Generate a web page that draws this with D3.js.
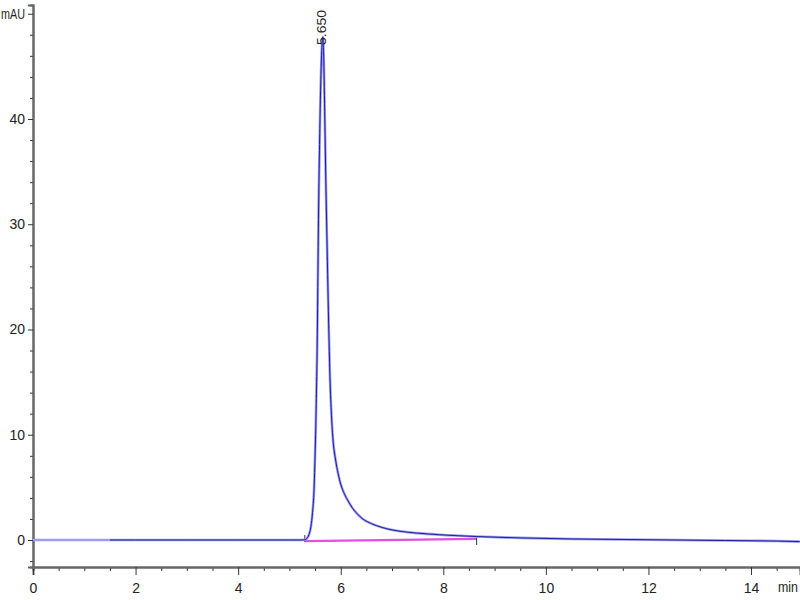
<!DOCTYPE html>
<html lang="en">
  <head>
    <meta charset="utf-8">
    <title>Chromatogram</title>
    <script src="https://d3js.org/d3.v7.min.js"></script>
    <style>
      body { margin: 0; background: #fff; }
      svg text { font-family: "Liberation Sans", Arial, sans-serif; fill: #222; }
    </style>
  </head>
  <body>
    <script>
      // retention time (min) and absorbance (mAU)
      const times = [0, 0.5, 1, 1.5, 1.6, 2, 3, 4, 5, 5.2, 5.3, 5.34, 5.38, 5.42, 5.45, 5.48, 5.51, 5.54,
        5.57, 5.6, 5.63, 5.65, 5.67, 5.69, 5.71, 5.73, 5.75, 5.77, 5.79, 5.82, 5.85, 5.9, 5.95, 6.0,
        6.07, 6.14, 6.22, 6.3, 6.43, 6.6, 6.8, 6.96, 7.2, 7.5, 7.93, 8.65, 9.5, 10.5, 11.5, 12.5,
        13.5, 14.5, 14.95];
      const signal = [0, 0, 0, 0, 0, 0, 0, 0, 0, 0, 0.02, 0.15, 0.5, 1.3, 2.6, 4.8, 10, 18,
        32, 41, 46.5, 47.8, 45.5, 40, 34, 29, 24, 19.5, 15.5, 11.8, 9.5, 7.6, 6.3, 5.3,
        4.4, 3.75, 3.1, 2.6, 2.0, 1.55, 1.2, 1.0, 0.8, 0.65, 0.5, 0.33, 0.2, 0.1, 0.05, 0,
        -0.05, -0.1, -0.15];

      const peakTime = 5.65, peakLabel = "5.650";
      const baseStart = [5.3, -0.1], baseEnd = [8.65, 0.1];

      const xMajor = [0, 2, 4, 6, 8, 10, 12, 14];
      const yMajor = [0, 10, 20, 30, 40];

      const width = 800, height = 600;

      const x = d3.scaleLinear().domain([0, 14.955]).range([33, 800]);
      const y = d3.scaleLinear().domain([-2.565, 50.83]).range([567, 5]);

      const svg = d3.select('body').append('svg')
          .attr('width', width)
          .attr('height', height);

      // x axis
      const xAxis = svg.append('g').attr('transform', `translate(0,${y.range()[0]})`);
      xAxis.call(d3.axisBottom(x).tickValues(d3.range(0.5, 15, 0.5).filter(v => v % 2 !== 0))
          .tickSize(4).tickFormat(''));
      xAxis.call(g => g.append('g').call(d3.axisBottom(x).tickValues(xMajor).tickSize(8)
          .tickFormat(d3.format('d'))));
      xAxis.selectAll('path.domain').attr('stroke', '#666').attr('stroke-width', 2);
      xAxis.selectAll('line').attr('stroke', '#333');
      xAxis.selectAll('text').attr('font-size', 14).attr('dy', '1.05em').attr('fill', '#222');

      // y axis
      const yAxis = svg.append('g').attr('transform', `translate(${x.range()[0]},0)`);
      yAxis.call(d3.axisLeft(y).tickValues(d3.range(-2, 51, 2).filter(v => v % 10 !== 0))
          .tickSize(3).tickFormat(''));
      yAxis.call(g => g.append('g').call(d3.axisLeft(y).tickValues(yMajor.concat([50])).tickSize(5)
          .tickFormat(d => d === 50 ? 'mAU' : d)));
      yAxis.selectAll('path.domain').attr('stroke', '#666').attr('stroke-width', 2);
      yAxis.selectAll('line').attr('stroke', '#333');
      yAxis.selectAll('text').attr('font-size', 14).attr('fill', '#222')
          .filter(d => d === 50)
          .attr('textLength', 24).attr('lengthAdjust', 'spacingAndGlyphs');

      svg.append('text')
          .attr('x', 778).attr('y', 592)
          .attr('font-size', 14)
          .attr('textLength', 20).attr('lengthAdjust', 'spacingAndGlyphs')
          .text('min');

      // integration baseline
      svg.append('line')
          .attr('x1', x(baseStart[0])).attr('y1', y(baseStart[1]))
          .attr('x2', x(baseEnd[0])).attr('y2', y(baseEnd[1]))
          .attr('stroke', '#e34ee3').attr('stroke-width', 2.2);
      [baseStart, baseEnd].forEach((p, i) => {
        svg.append('line')
            .attr('x1', x(p[0])).attr('x2', x(p[0]))
            .attr('y1', y(p[1]) - (i ? 2 : 6)).attr('y2', y(p[1]) + (i ? 6 : 1))
            .attr('stroke', '#333').attr('stroke-width', 1);
      });

      // signal trace
      const pts = times.map((t, i) => [t, signal[i]]);
      const line = d3.line().x(d => x(d[0])).y(d => y(d[1])).curve(d3.curveMonotoneX);

      svg.append('path')
          .attr('d', line(pts))
          .attr('fill', 'none')
          .attr('stroke', '#9c9cf2')
          .attr('stroke-width', 2.6);
      svg.append('path')
          .attr('d', line(pts.filter(d => d[0] >= 1.5)))
          .attr('fill', 'none')
          .attr('stroke', '#1e1e9e')
          .attr('stroke-width', 1);

      // peak label
      svg.append('text')
          .attr('transform', `translate(${x(peakTime) - 1},45) rotate(-90)`)
          .attr('dy', '0.35em')
          .attr('font-size', 13)
          .attr('textLength', 35).attr('lengthAdjust', 'spacingAndGlyphs')
          .attr('fill', '#333')
          .text(peakLabel);
    </script>
  </body>
</html>
